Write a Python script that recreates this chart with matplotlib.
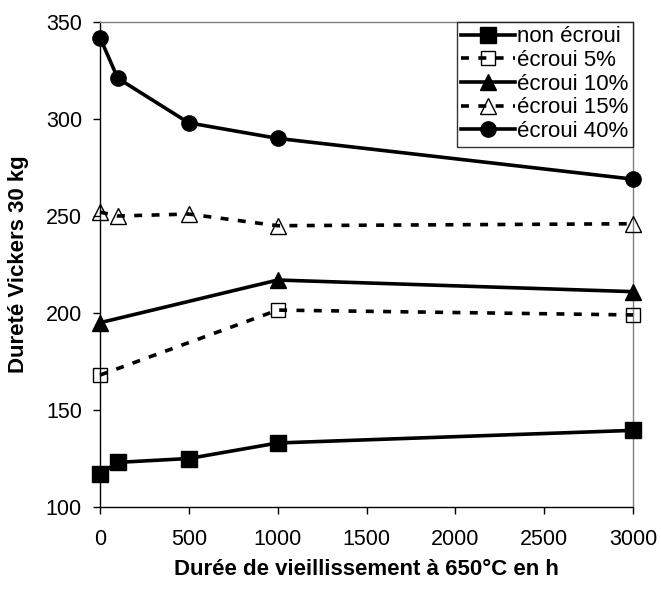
import matplotlib
matplotlib.use("Agg")
import matplotlib.pyplot as plt

plt.rcParams['font.family'] = ['Liberation Sans', 'DejaVu Sans']

# Durée (h) et dureté Vickers
t_all = [0, 100, 500, 1000, 3000]
t_short = [0, 1000, 3000]

hv_non = [117, 123, 125, 133, 139.5]
hv_5 = [168, 201.5, 199]
hv_10 = [195, 217, 211]
hv_15 = [252, 250, 251, 245, 246]
hv_40 = [342, 321, 298, 290, 269]

labels = ['non écroui', 'écroui 5%', 'écroui 10%', 'écroui 15%', 'écroui 40%']

fig = plt.figure(figsize=(6.61, 5.91), dpi=100)
ax = fig.add_axes([100 / 661, 84 / 591, 533 / 661, 485 / 591])

dash = (0, (2.2, 2.6))
lw = 2.6

ax.plot(t_all, hv_non, color='black', lw=lw, marker='s', ms=11.5, mfc='black', mec='black',
        label=labels[0], clip_on=False, zorder=3)
ax.plot(t_short, hv_5, color='black', lw=lw, ls=dash, marker='s', ms=10, mfc='none',
        mec='black', mew=1.0, label=labels[1], clip_on=False, zorder=3)
ax.plot(t_short, hv_10, color='black', lw=lw, marker='^', ms=11.5, mfc='black', mec='black',
        label=labels[2], clip_on=False, zorder=3)
ax.plot(t_all, hv_15, color='black', lw=lw, ls=dash, marker='^', ms=11, mfc='none',
        mec='black', mew=1.0, label=labels[3], clip_on=False, zorder=3)
ax.plot(t_all, hv_40, color='black', lw=lw, marker='o', ms=11, mfc='black', mec='black',
        label=labels[4], clip_on=False, zorder=3)

ax.set_xlim(0, 3000)
ax.set_ylim(100, 350)
ax.set_xticks([0, 500, 1000, 1500, 2000, 2500, 3000])
ax.set_yticks([100, 150, 200, 250, 300, 350])

for s in ['left', 'bottom']:
    ax.spines[s].set_color('black')
    ax.spines[s].set_linewidth(1.0)
for s in ['top', 'right']:
    ax.spines[s].set_color('#808080')
    ax.spines[s].set_linewidth(1.0)

ax.tick_params(direction='out', length=5, width=1, labelsize=15.5)
ax.tick_params(axis='x', pad=11)
ax.tick_params(axis='y', pad=8)

ax.set_xlabel('Durée de vieillissement à 650°C en h', fontsize=16, fontweight='bold', labelpad=6)
ax.set_ylabel('Dureté Vickers 30 kg', fontsize=16, fontweight='bold', labelpad=12)

leg = ax.legend(loc='upper right', fontsize=16, frameon=True, fancybox=False,
                borderaxespad=0, handlelength=2.45, handletextpad=0.08,
                labelspacing=0.12, borderpad=0.2)
leg.get_frame().set_edgecolor('black')
leg.get_frame().set_linewidth(1.0)

fig.savefig('out.png', dpi=100)
